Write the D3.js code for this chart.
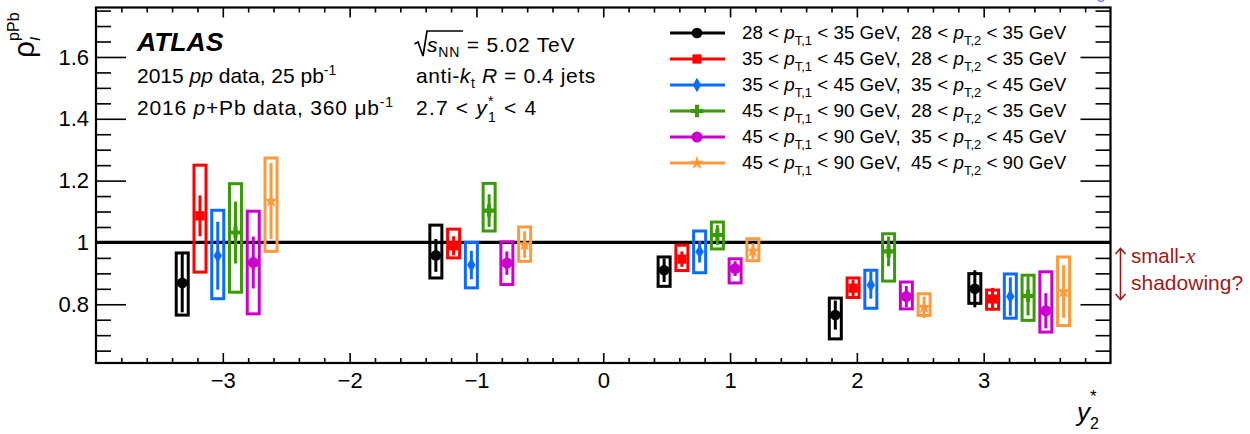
<!DOCTYPE html>
<html>
<head>
<meta charset="utf-8">
<script src="https://cdn.jsdelivr.net/npm/d3@7"></script>
<style>
  html, body { margin: 0; padding: 0; background: #fff; }
  svg { display: block; }
  text { white-space: pre; }
</style>
</head>
<body>
<svg id="chart" width="1250" height="434"></svg>
<script>
// ---------------- data ----------------
const seriesNames = ["s0", "s1", "s2", "s3", "s4", "s5"];
const seriesColors = ["#000000", "#ff0000", "#0a6cff", "#3a9a08", "#cc00cc", "#ff9a3c"];
const seriesPt1 = [["28", "35"], ["35", "45"], ["35", "45"], ["45", "90"], ["45", "90"], ["45", "90"]];
const seriesPt2 = [["28", "35"], ["28", "35"], ["35", "45"], ["28", "35"], ["35", "45"], ["45", "90"]];

// y2* positions of the points (per series, 5 y2* bins)
const xBlack   = [-3.32, -1.32, 0.48, 1.83, 2.93];
const xRed     = [-3.18, -1.18, 0.62, 1.97, 3.07];
const xBlue    = [-3.04, -1.04, 0.76, 2.11, 3.21];
const xGreen   = [-2.90, -0.90, 0.90, 2.25, 3.35];
const xMagenta = [-2.76, -0.76, 1.04, 2.39, 3.49];
const xOrange  = [-2.62, -0.62, 1.18, 2.53, 3.63];

// central values
const vBlack   = [0.869, 0.958, 0.910, 0.765, 0.850];
const vRed     = [1.086, 0.989, 0.946, 0.852, 0.817];
const vBlue    = [0.957, 0.927, 0.970, 0.862, 0.825];
const vGreen   = [1.032, 1.103, 1.024, 0.971, 0.827];
const vMagenta = [0.935, 0.933, 0.915, 0.825, 0.779];
const vOrange  = [1.134, 0.993, 0.972, 0.790, 0.841];

// statistical uncertainties
const eBlack   = [0.095, 0.053, 0.038, 0.047, 0.060];
const eRed     = [0.066, 0.031, 0.025, 0.028, 0.036];
const eBlue    = [0.110, 0.046, 0.035, 0.044, 0.062];
const eGreen   = [0.100, 0.053, 0.032, 0.048, 0.063];
const eMagenta = [0.084, 0.038, 0.024, 0.034, 0.057];
const eOrange  = [0.123, 0.043, 0.025, 0.035, 0.085];

// systematic band lower / upper edges
const loBlack   = [0.765, 0.885, 0.858, 0.688, 0.803];
const hiBlack   = [0.966, 1.056, 0.953, 0.820, 0.899];
const loRed     = [0.904, 0.950, 0.909, 0.822, 0.784];
const hiRed     = [1.250, 1.043, 0.991, 0.885, 0.846];
const loBlue    = [0.818, 0.853, 0.902, 0.787, 0.755];
const hiBlue    = [1.104, 1.000, 1.037, 0.910, 0.898];
const loGreen   = [0.839, 1.037, 0.979, 0.875, 0.748];
const hiGreen   = [1.190, 1.191, 1.066, 1.028, 0.894];
const loMagenta = [0.769, 0.864, 0.869, 0.785, 0.710];
const hiMagenta = [1.101, 1.002, 0.947, 0.872, 0.905];
const loOrange  = [0.971, 0.939, 0.941, 0.764, 0.731];
const hiOrange  = [1.273, 1.050, 1.012, 0.834, 0.953];

const xMajorTicks = [-3, -2, -1, 0, 1, 2, 3];
const xTickLabels = ["\u22123", "\u22122", "\u22121", "0", "1", "2", "3"];
const yMajorTicks = [0.8, 1.0, 1.2, 1.4, 1.6];
const yTickLabels = ["0.8", "1", "1.2", "1.4", "1.6"];
const xDomain = [-4, 4];
const yDomain = [0.61, 1.76];

const allX  = [xBlack, xRed, xBlue, xGreen, xMagenta, xOrange];
const allV  = [vBlack, vRed, vBlue, vGreen, vMagenta, vOrange];
const allE  = [eBlack, eRed, eBlue, eGreen, eMagenta, eOrange];
const allLo = [loBlack, loRed, loBlue, loGreen, loMagenta, loOrange];
const allHi = [hiBlack, hiRed, hiBlue, hiGreen, hiMagenta, hiOrange];

// ---------------- layout ----------------
const L = 96, R = 1110.5, T = 7.5, B = 363;
const FONT = "'Liberation Sans', Arial, Helvetica, sans-serif";
const svg = d3.select("#chart");
const x = d3.scaleLinear().domain(xDomain).range([L, R]);
const y = d3.scaleLinear().domain(yDomain).range([B, T]);

const markerTypes = [d3.symbolCircle, d3.symbolSquare, d3.symbolDiamond, d3.symbolCross, d3.symbolCircle, d3.symbolStar];
const markerSizes = [90, 85, 60, 85, 95, 60];

// ---------------- helpers ----------------
function richText(parent, x0, y0, runs, opts) {
  let cx = x0, lastStart = x0;
  runs.forEach(r => {
    const size = r.size || opts.size;
    const sx = r.same ? lastStart : cx;
    const t = parent.append("text")
      .attr("x", sx).attr("y", y0 + (r.dy || 0))
      .attr("font-family", r.family || opts.family || FONT)
      .attr("font-size", size)
      .attr("font-style", r.i ? "italic" : "normal")
      .attr("font-weight", r.b ? "bold" : "normal")
      .attr("letter-spacing", opts.ls || 0)
      .attr("fill", r.fill || opts.fill || "#000")
      .text(r.t);
    const w = t.node().getComputedTextLength();
    if (!r.same) lastStart = sx;
    cx = Math.max(cx, sx + w);
  });
  return cx;
}

// ---------------- unity line ----------------
svg.append("line")
  .attr("x1", L).attr("x2", R).attr("y1", y(1)).attr("y2", y(1))
  .attr("stroke", "#000").attr("stroke-width", 3.2);

// ---------------- data marks ----------------
const boxHalf = 6;
allX.forEach((xs, si) => {
  const col = seriesColors[si];
  const g = svg.append("g").attr("class", "series-" + si);
  const pts = xs.map((xv, i) => ({x: xv, v: allV[si][i], e: allE[si][i], lo: allLo[si][i], hi: allHi[si][i]}));
  g.selectAll("rect.sys").data(pts).join("rect")
    .attr("class", "sys")
    .attr("x", d => x(d.x) - boxHalf).attr("width", boxHalf * 2)
    .attr("y", d => y(d.hi)).attr("height", d => y(d.lo) - y(d.hi))
    .attr("fill", "none").attr("stroke", col).attr("stroke-width", 3);
  g.selectAll("line.stat").data(pts).join("line")
    .attr("class", "stat")
    .attr("x1", d => x(d.x)).attr("x2", d => x(d.x))
    .attr("y1", d => y(d.v - d.e)).attr("y2", d => y(d.v + d.e))
    .attr("stroke", col).attr("stroke-width", 3);
  g.selectAll("path.mk").data(pts).join("path")
    .attr("class", "mk")
    .attr("transform", d => `translate(${x(d.x)},${y(d.v)})`)
    .attr("d", d3.symbol().type(markerTypes[si]).size(markerSizes[si]))
    .attr("fill", col);
});

// ---------------- axes ----------------
const xMinor = d3.range(-3.8, 3.81, 0.2).filter(v => Math.abs(v - Math.round(v)) > 0.01);
const yMinor = d3.range(0.65, 1.751, 0.05).filter(v => Math.abs(v * 5 - Math.round(v * 5)) > 0.01);

function styleAxis(g) {
  g.select(".domain").remove();
  g.selectAll(".tick line").attr("stroke", "#000").attr("stroke-width", 1.6);
  g.selectAll(".tick text").attr("font-family", FONT).attr("font-size", 22).attr("fill", "#000");
}
svg.append("g").attr("transform", `translate(0,${B})`)
  .call(d3.axisBottom(x).tickValues(xMajorTicks).tickFormat((d, i) => xTickLabels[i]).tickSize(-10).tickPadding(9))
  .call(styleAxis);
svg.append("g").attr("transform", `translate(0,${B})`)
  .call(d3.axisBottom(x).tickValues(xMinor).tickFormat("").tickSize(-5)).call(styleAxis);
svg.append("g").attr("transform", `translate(0,${T})`)
  .call(d3.axisTop(x).tickValues(xMajorTicks).tickFormat("").tickSize(-10)).call(styleAxis);
svg.append("g").attr("transform", `translate(0,${T})`)
  .call(d3.axisTop(x).tickValues(xMinor).tickFormat("").tickSize(-5)).call(styleAxis);
svg.append("g").attr("transform", `translate(${L},0)`)
  .call(d3.axisLeft(y).tickValues(yMajorTicks).tickFormat((d, i) => yTickLabels[i]).tickSize(-30).tickPadding(7))
  .call(styleAxis);
svg.append("g").attr("transform", `translate(${L},0)`)
  .call(d3.axisLeft(y).tickValues(yMinor).tickFormat("").tickSize(-15)).call(styleAxis);
svg.append("g").attr("transform", `translate(${R},0)`)
  .call(d3.axisRight(y).tickValues(yMajorTicks).tickFormat("").tickSize(-30)).call(styleAxis);
svg.append("g").attr("transform", `translate(${R},0)`)
  .call(d3.axisRight(y).tickValues(yMinor).tickFormat("").tickSize(-15)).call(styleAxis);

svg.append("rect").attr("x", L).attr("y", T).attr("width", R - L).attr("height", B - T)
  .attr("fill", "none").attr("stroke", "#000").attr("stroke-width", 2.2);

// ---------------- axis titles ----------------
const yt = svg.append("g").attr("transform", "translate(34,58) rotate(-90)");
richText(yt, 0, 0, [
  {t: "\u03c1", size: 30},
  {t: "I", i: true, size: 15, dy: 6},
  {t: "pPb", size: 16, dy: -15, same: true}
], {size: 30});

richText(svg, 1077, 421, [
  {t: "y", i: true, size: 26},
  {t: "2", size: 16, dy: 8},
  {t: "*", size: 17, dy: -19, same: true}
], {size: 26});

// ---------------- texts ----------------
svg.append("text").attr("x", 137).attr("y", 51)
  .attr("font-family", FONT).attr("font-size", 26.5).attr("font-style", "italic").attr("font-weight", "bold")
  .text("ATLAS");
richText(svg, 137, 83, [
  {t: "2015 "}, {t: "pp", i: true}, {t: " data, 25 pb"}, {t: "-1", size: 14, dy: -8}
], {size: 21});
richText(svg, 137, 115, [
  {t: "2016 "}, {t: "p", i: true}, {t: "+Pb data, 360 \u03bcb"}, {t: "-1", size: 14, dy: -8}
], {size: 21, ls: 0.8});

// sqrt(s_NN)
svg.append("path")
  .attr("d", "M414.5,44 L418,42 L423,56 L427,31 L463,31")
  .attr("fill", "none").attr("stroke", "#000").attr("stroke-width", 1.7);
richText(svg, 427, 52, [
  {t: "s", i: true}, {t: "NN", size: 14, dy: 5}, {t: " = 5.02 TeV"}
], {size: 21, ls: 0.8});
richText(svg, 416, 83, [
  {t: "anti-"}, {t: "k", i: true}, {t: "t", size: 14, dy: 5}, {t: " "}, {t: "R", i: true}, {t: " = 0.4 jets"}
], {size: 21, ls: 0.6});
richText(svg, 416, 115, [
  {t: "2.7 < "}, {t: "y", i: true}, {t: "1", size: 14, dy: 7}, {t: "*", size: 14, dy: -9, same: true}, {t: " < 4"}
], {size: 21, ls: 1.2});

// ---------------- legend ----------------
const legRowY = [33, 59, 85, 111, 137, 163];
const legend = svg.append("g").attr("class", "legend");
seriesNames.forEach((nm, si) => {
  const cy = legRowY[si];
  const col = seriesColors[si];
  legend.append("line").attr("x1", 670).attr("x2", 725).attr("y1", cy).attr("y2", cy)
    .attr("stroke", col).attr("stroke-width", 3);
  legend.append("path").attr("transform", `translate(697,${cy})`)
    .attr("d", d3.symbol().type(markerTypes[si]).size(markerSizes[si]))
    .attr("fill", col);
  const a = seriesPt1[si], b = seriesPt2[si];
  richText(legend, 742, cy + 6, [
    {t: a[0] + " < "}, {t: "p", i: true}, {t: "T,1", size: 13, dy: 6},
    {t: " < " + a[1] + " GeV,  " + b[0] + " < "}, {t: "p", i: true}, {t: "T,2", size: 13, dy: 6},
    {t: " < " + b[1] + " GeV"}
  ], {size: 18.8});
});

// ---------------- annotation ----------------
const RED = "#9e1a1a";
const ann = svg.append("g");
ann.append("line").attr("x1", 1120.5).attr("x2", 1120.5).attr("y1", 248.5).attr("y2", 299.5)
  .attr("stroke", RED).attr("stroke-width", 1.6);
ann.append("path").attr("d", "M1115.5,254 L1120.5,248.5 L1125.5,254").attr("fill", "none").attr("stroke", RED).attr("stroke-width", 1.6);
ann.append("path").attr("d", "M1115.5,294 L1120.5,299.5 L1125.5,294").attr("fill", "none").attr("stroke", RED).attr("stroke-width", 1.6);
richText(ann, 1131, 263, [
  {t: "small-"}, {t: "x", i: true, family: "'Liberation Serif', 'DejaVu Serif', serif", size: 22}
], {size: 20.5, fill: RED});
richText(ann, 1131, 290, [{t: "shadowing?"}], {size: 21, fill: RED});

// tiny clipped blue stroke at the top edge (fragment of a cut-off label)
svg.append("path").attr("d", "M1098,0 Q1101,3 1104,0").attr("fill", "none")
  .attr("stroke", "#7a7aee").attr("stroke-width", 1.5);
</script>
</body>
</html>
